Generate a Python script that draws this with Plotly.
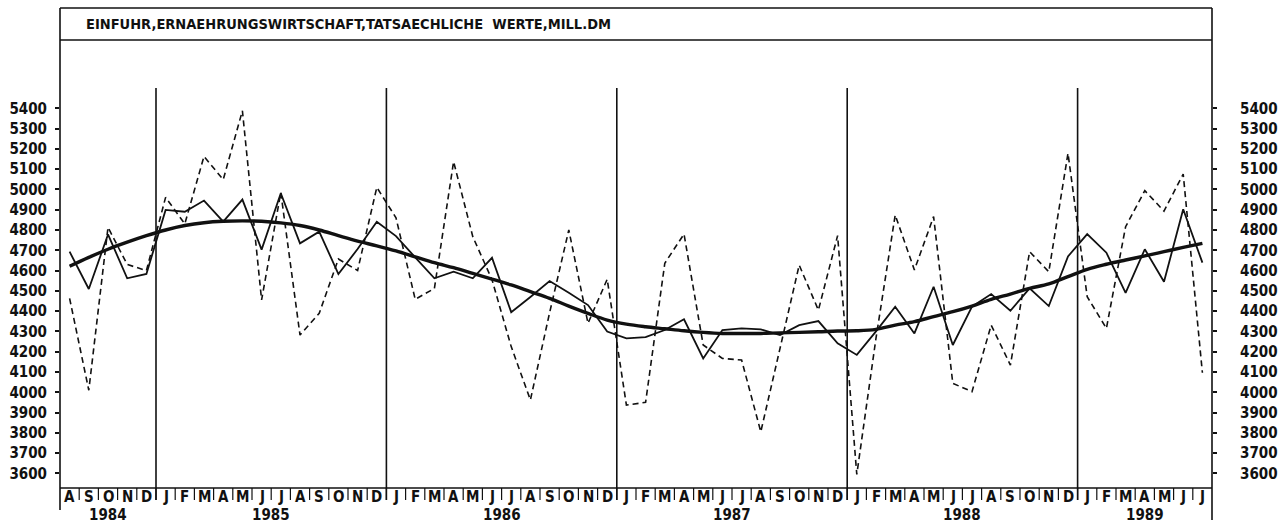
import plotly.graph_objects as go

# ---------------- data ----------------
month_letters = (["A", "S", "O", "N", "D"]
                 + ["J", "F", "M", "A", "M", "J", "J", "A", "S", "O", "N", "D"] * 4
                 + ["J", "F", "M", "A", "M", "J", "J"])
years = ["1984", "1985", "1986", "1987", "1988", "1989"]
months_per_year = [5, 12, 12, 12, 12, 7]

actual = [4463, 4010, 4813, 4630, 4600,
          4961, 4830, 5163, 5048, 5388, 4455, 4985, 4282, 4389, 4657, 4600, 5010,
          4860, 4458, 4512, 5137, 4767, 4555, 4225, 3962, 4392, 4800, 4340, 4557,
          3937, 3950, 4636, 4780, 4233, 4167, 4159, 3805, 4223, 4627, 4405, 4772,
          3595, 4267, 4874, 4603, 4866, 4044, 4003, 4331, 4134, 4693, 4594, 5178,
          4471, 4315, 4816, 4994, 4893, 5076, 4096]

adjusted = [4693, 4509, 4778, 4562, 4583,
            4899, 4890, 4945, 4841, 4950, 4703, 4981, 4734, 4792, 4583, 4706, 4841,
            4770, 4665, 4562, 4594, 4562, 4663, 4395, 4470, 4548, 4491, 4430, 4299,
            4266, 4272, 4307, 4360, 4167, 4307, 4315, 4310, 4282, 4331, 4351, 4241,
            4184, 4300, 4422, 4290, 4520, 4233, 4422, 4484, 4402, 4512, 4425, 4670,
            4780, 4688, 4490, 4705, 4545, 4902, 4639]

trend = [4621, 4665, 4705, 4740, 4772,
         4800, 4822, 4836, 4843, 4845, 4843, 4835, 4822, 4800, 4772, 4745, 4722,
         4697, 4668, 4639, 4614, 4586, 4558, 4529, 4496, 4463, 4425, 4389, 4356,
         4336, 4323, 4313, 4303, 4295, 4290, 4290, 4290, 4293, 4295, 4298, 4302,
         4303, 4310, 4331, 4348, 4373, 4397, 4425, 4458, 4484, 4512, 4534, 4570,
         4606, 4631, 4652, 4672, 4693, 4714, 4734]

y_ticks = list(range(3600, 5500, 100))
title_text = "EINFUHR,ERNAEHRUNGSWIRTSCHAFT,TATSAECHLICHE\u00a0\u00a0WERTE,MILL.DM"

# ---------------- figure ----------------
n = len(month_letters)
x = list(range(n))
FONT = "DejaVu Sans Condensed, Liberation Sans Narrow, sans-serif"
BLACK = "#111111"

fig = go.Figure()
fig.add_trace(go.Scatter(x=x, y=actual, mode="lines",
                         line=dict(color=BLACK, width=1.6, dash="6px,4px"),
                         showlegend=False, hoverinfo="skip"))
fig.add_trace(go.Scatter(x=x, y=adjusted, mode="lines",
                         line=dict(color=BLACK, width=1.8),
                         showlegend=False, hoverinfo="skip"))
fig.add_trace(go.Scatter(x=x, y=trend, mode="lines", line_shape="spline",
                         line=dict(color=BLACK, width=3.4),
                         showlegend=False, hoverinfo="skip"))
# invisible trace to activate the right-hand axis
fig.add_trace(go.Scatter(x=x, y=trend, mode="lines", yaxis="y2",
                         line=dict(color="rgba(0,0,0,0)", width=0),
                         showlegend=False, hoverinfo="skip"))

yrange = [3528, 5500]
axis_font = dict(family=FONT, size=15, color=BLACK, weight="bold")

fig.update_layout(
    width=1281, height=524, autosize=False,
    margin=dict(l=60, r=69, t=88, b=36, pad=0, autoexpand=False),
    paper_bgcolor="white", plot_bgcolor="white",
    xaxis=dict(range=[-0.5, n - 0.5], showgrid=False, zeroline=False, automargin=False,
               showticklabels=False, ticks="", showline=False, fixedrange=True),
    yaxis=dict(range=yrange, tickvals=y_ticks, showgrid=False, zeroline=False,
               automargin=False,
               ticks="outside", ticklen=4, tickwidth=1.5, tickcolor=BLACK,
               showline=False, tickfont=axis_font, ticklabelstandoff=5,
               fixedrange=True),
    yaxis2=dict(range=yrange, tickvals=y_ticks, overlaying="y", side="right",
                automargin=False,
                showgrid=False, zeroline=False, ticks="outside", ticklen=4,
                tickwidth=1.5, tickcolor=BLACK, showline=False,
                tickfont=axis_font, ticklabelstandoff=20, fixedrange=True),
)

shapes = []
lw = 1.6
line_style = dict(color=BLACK, width=lw)
# outer frame and title box
shapes.append(dict(type="line", xref="paper", yref="paper", x0=0, x1=1, y0=1.2, y1=1.2, line=line_style))
shapes.append(dict(type="line", xref="paper", yref="paper", x0=0, x1=1, y0=1.12, y1=1.12, line=line_style))
shapes.append(dict(type="line", xref="paper", yref="paper", x0=0, x1=0, y0=-0.055, y1=1.2, line=line_style))
shapes.append(dict(type="line", xref="paper", yref="paper", x0=1, x1=1, y0=-0.08, y1=1.2, line=line_style))
shapes.append(dict(type="line", xref="paper", yref="paper", x0=0, x1=1, y0=0, y1=0, line=line_style))
# month separators
for k in range(1, n):
    shapes.append(dict(type="line", xref="paper", yref="paper", x0=k / n, x1=k / n,
                       y0=-0.03, y1=0, line=dict(color=BLACK, width=1.2)))
# year dividers
cum = 0
for m in months_per_year[:-1]:
    cum += m
    shapes.append(dict(type="line", xref="paper", yref="paper", x0=cum / n, x1=cum / n,
                       y0=-0.03, y1=1, line=line_style))

annotations = []
annotations.append(dict(text=title_text, xref="paper", yref="paper", x=24 / 1152, y=1.16,
                        xanchor="left", yanchor="middle", showarrow=False,
                        font=dict(family=FONT, size=14.5, color=BLACK, weight="bold")))
for k, lab in enumerate(month_letters):
    annotations.append(dict(text=lab, xref="paper", yref="paper", x=(k + 0.5) / n, y=-0.0225,
                            xanchor="center", yanchor="middle", showarrow=False,
                            font=dict(family=FONT, size=15, color=BLACK, weight="bold")))
cum = 0
for yr, m in zip(years, months_per_year):
    annotations.append(dict(text=yr, xref="paper", yref="paper", x=(cum + m / 2) / n, y=-0.068,
                            xanchor="center", yanchor="middle", showarrow=False,
                            font=dict(family=FONT, size=15, color=BLACK, weight="bold")))
    cum += m

fig.update_layout(shapes=shapes, annotations=annotations)
fig.write_html("out.html", config={"displayModeBar": False},
               post_script="document.body.style.margin='0';document.body.style.padding='0';")
